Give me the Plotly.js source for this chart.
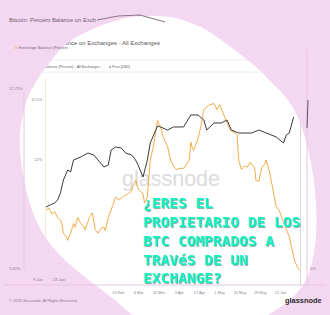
<!DOCTYPE html>
<html><head><meta charset="utf-8">
<script src="https://cdn.plot.ly/plotly-3.0.1.min.js"></script>
<style>html,body{margin:0;padding:0;background:#fff}#c{width:330px;height:315px}</style>
</head><body><div id="c"></div>
<script>
// ---- data ----
const balanceDates = ['2023-01-01','2023-01-03','2023-01-05','2023-01-07','2023-01-09','2023-01-11','2023-01-12','2023-01-13','2023-01-15','2023-01-16','2023-01-18','2023-01-20','2023-01-21','2023-01-23','2023-01-25','2023-01-27','2023-01-28','2023-01-30','2023-01-31','2023-02-02','2023-02-04','2023-02-06','2023-02-08','2023-02-10','2023-02-11','2023-02-13','2023-02-15','2023-02-16','2023-02-18','2023-02-20','2023-02-22','2023-02-24','2023-02-27','2023-03-01','2023-03-02','2023-03-04','2023-03-06','2023-03-08','2023-03-09','2023-03-10','2023-03-12','2023-03-13','2023-03-14','2023-03-16','2023-03-17','2023-03-19','2023-03-20','2023-03-21','2023-03-23','2023-03-24','2023-03-26','2023-03-28','2023-03-30','2023-04-01','2023-04-03','2023-04-06','2023-04-08','2023-04-10','2023-04-11','2023-04-12','2023-04-13','2023-04-15','2023-04-16','2023-04-18','2023-04-19','2023-04-20','2023-04-22','2023-04-24','2023-04-27','2023-04-29','2023-05-01','2023-05-03','2023-05-04','2023-05-07','2023-05-09','2023-05-11','2023-05-13','2023-05-14','2023-05-16','2023-05-18','2023-05-20','2023-05-22','2023-05-24','2023-05-25','2023-05-26','2023-05-28','2023-05-30','2023-06-01','2023-06-02','2023-06-04','2023-06-06','2023-06-07','2023-06-09','2023-06-11','2023-06-13','2023-06-15','2023-06-18','2023-06-20','2023-06-22','2023-06-24','2023-06-25'];
const balancePct = [11.58,11.60,11.55,11.57,11.52,11.50,11.47,11.39,11.36,11.33,11.39,11.47,11.44,11.52,11.47,11.45,11.42,11.48,11.52,11.56,11.42,11.39,11.43,11.44,11.41,11.52,11.58,11.62,11.69,11.67,11.68,11.70,11.72,11.74,11.78,11.83,11.75,11.73,11.72,11.64,11.69,11.85,12.00,12.10,12.17,12.33,12.30,12.28,12.19,12.16,12.11,12.00,11.95,11.92,11.93,11.93,11.96,12.00,12.15,12.10,12.08,12.14,12.18,12.28,12.36,12.42,12.44,12.46,12.47,12.42,12.46,12.40,12.36,12.28,12.24,12.23,12.21,12.00,11.92,11.95,11.94,11.98,11.95,11.94,11.83,11.82,11.94,11.96,12.00,11.92,11.80,11.73,11.61,11.58,11.52,11.46,11.36,11.25,11.15,11.10,11.08];

const priceDates = ['2023-01-01','2023-01-04','2023-01-07','2023-01-09','2023-01-11','2023-01-13','2023-01-16','2023-01-18','2023-01-20','2023-01-25','2023-01-30','2023-02-03','2023-02-08','2023-02-10','2023-02-13','2023-02-15','2023-02-18','2023-02-22','2023-02-25','2023-03-01','2023-03-03','2023-03-05','2023-03-09','2023-03-12','2023-03-14','2023-03-17','2023-03-19','2023-03-21','2023-03-26','2023-03-30','2023-04-06','2023-04-11','2023-04-16','2023-04-20','2023-04-22','2023-04-27','2023-05-02','2023-05-06','2023-05-09','2023-05-14','2023-05-23','2023-05-28','2023-06-02','2023-06-09','2023-06-14','2023-06-16','2023-06-18','2023-06-21'];
const priceUSD = [16500,16720,16950,17290,18110,19750,21120,20840,22570,23030,23650,23340,22120,21540,21830,24130,24610,24450,23650,23340,22870,22120,20150,22570,25280,27200,28310,28130,27570,28130,28130,30470,30470,29470,27570,28890,28890,29470,27570,27020,27020,27570,27020,26310,25280,26670,27020,30060];

const xTickVals = ['2023-02-20','2023-03-06','2023-03-20','2023-04-03','2023-04-17','2023-05-01','2023-05-15','2023-05-29','2023-06-12'];
const xTickText = ['20 Feb','6 Mar','20 Mar','3 Apr','17 Apr','1 May','15 May','29 May','12 Jun'];
const yTickVals = [12, 12.5];
const yTickText = ['12%', '12.5%'];

const headline = '¿ERES EL<br>PROPIETARIO DE LOS<br>BTC COMPRADOS A<br>TRAVéS DE UN<br>EXCHANGE?';

// ---- layout helpers ----
const W = 330, H = 315;
const px = x => x / W, py = y => 1 - y / H;
const SANS = '"Liberation Sans", Arial, sans-serif';
const ORANGE = '#f2ad4a';

const rim = [[150,16],[170,17],[186,21],[208,31],[232,48],[255,66],[273,84],[288,100],[299,120],[307,145],[313,175],[316,205],[316,235],[312,262],[305,282],[292,298],[276,310],[258,320],[230,330],[190,335],[150,325],[130,313],[115,300],[95,285],[75,269],[57,252],[42,232],[32,210],[24,180],[20,150],[21,125],[27,100],[37,80],[47,66],[60,50],[75,38],[95,28],[115,21],[132,17]];
function rimPath(pts){
  const n = pts.length, f = p => px(p[0]).toFixed(4)+','+py(p[1]).toFixed(4);
  let d = 'M' + f(pts[0]);
  for (let i = 0; i < n; i++){
    const p0 = pts[(i-1+n)%n], p1 = pts[i], p2 = pts[(i+1)%n], p3 = pts[(i+2)%n];
    const c1 = [p1[0]+(p2[0]-p0[0])/6, p1[1]+(p2[1]-p0[1])/6];
    const c2 = [p2[0]-(p3[0]-p1[0])/6, p2[1]-(p3[1]-p1[1])/6];
    d += 'C' + f(c1) + ' ' + f(c2) + ' ' + f(p2);
  }
  return d + 'Z';
}

const traces = [
  {x:[171], y:[181], xaxis:'x', yaxis:'y', mode:'text', text:['glassnode'], textposition:'middle center',
   textfont:{family:SANS, size:21.5, color:'#dcdcdc'}, hoverinfo:'skip'},
  {x:[160], y:[43], xaxis:'x', yaxis:'y', mode:'text', text:['Bitcoin: Percent Balance on Exchanges - All Exchanges'], textposition:'middle left',
   textfont:{family:SANS, size:6, color:'#555'}, hoverinfo:'skip'},
  {x:[100], y:[67], xaxis:'x', yaxis:'y', mode:'text', text:['<span style="color:'+ORANGE+'">●</span> Exchange Balance (Percent) - All Exchanges'], textposition:'middle left',
   textfont:{family:SANS, size:3.7, color:'#666'}, hoverinfo:'skip'},
  {x:[109], y:[67], xaxis:'x', yaxis:'y', mode:'text', text:['● Price [USD]'], textposition:'middle right',
   textfont:{family:SANS, size:3.4, color:'#555'}, hoverinfo:'skip'},
  {x:balanceDates, y:balancePct, xaxis:'x2', yaxis:'y2', mode:'lines', line:{color:ORANGE, width:1}, hoverinfo:'skip'},
  {x:priceDates, y:priceUSD, xaxis:'x2', yaxis:'y3', mode:'lines', line:{color:'#3a3a3a', width:1}, hoverinfo:'skip'}
];

const layout = {
  width: W, height: H, margin:{l:0,r:0,t:0,b:0},
  paper_bgcolor:'#ffffff', plot_bgcolor:'rgba(0,0,0,0)',
  showlegend:false, hovermode:false,
  xaxis:{domain:[0,1], range:[0,W], visible:false, fixedrange:true},
  yaxis:{domain:[0,1], range:[H,0], visible:false, fixedrange:true},
  xaxis2:{domain:[px(46), px(300)], anchor:'y2', type:'date', range:['2023-01-01','2023-06-25 10:00'],
    tickvals:xTickVals, ticktext:xTickText, tickfont:{family:SANS, size:3.9, color:'#888'},
    showgrid:false, zeroline:false, showline:false, ticks:'', ticklabelstandoff:4},
  yaxis2:{domain:[py(285), py(78)], anchor:'x2', range:[10.958, 12.683],
    tickvals:yTickVals, ticktext:yTickText, tickfont:{family:SANS, size:3.9, color:'#888'},
    showgrid:false, zeroline:false, showline:true, linecolor:'#f1ead6', linewidth:1, ticks:'', ticklabelstandoff:2},
  yaxis3:{overlaying:'y2', anchor:'x2', side:'right', type:'log', range:[3.9916, 4.591],
    showticklabels:false, showgrid:false, zeroline:false, showline:true, linecolor:'#d6d6d6', ticks:''},
  shapes:[
    {type:'line', xref:'paper', yref:'paper', x0:0, x1:1, y0:py(60), y1:py(60), line:{color:'#ececec', width:1}, layer:'below'},
    {type:'line', xref:'paper', yref:'paper', x0:0, x1:1, y0:py(72), y1:py(72), line:{color:'#ececec', width:1}, layer:'below'},
    {type:'path', xref:'paper', yref:'paper', path:'M0,0L1,0L1,1L0,1Z' + rimPath(rim), fillrule:'evenodd',
     fillcolor:'#f4d8f1', line:{width:0}, layer:'above'},
    {type:'path', xref:'paper', yref:'paper', path:'M'+px(97)+','+py(20)+'L'+px(118)+','+py(16)+'L'+px(140)+','+py(15)+'L'+px(165)+','+py(22),
     line:{color:'#8a7a89', width:1.2}, layer:'above'},
    {type:'line', xref:'paper', yref:'paper', x0:px(24), x1:px(24), y0:py(92), y1:py(268), line:{color:'#e6c6e3', width:1}, layer:'above'},
    {type:'line', xref:'paper', yref:'paper', x0:px(307), x1:px(307), y0:py(50), y1:py(285), line:{color:'#e6c6e3', width:1}, layer:'above'},
    {type:'line', xref:'paper', yref:'paper', x0:px(307), x1:px(308), y0:py(128), y1:py(100), line:{color:'#5a5a5a', width:1}, layer:'above'},
    {type:'line', xref:'paper', yref:'paper', x0:px(4), x1:px(326), y0:py(285), y1:py(285), line:{color:'#e6c6e3', width:1}, layer:'above'}
  ],
  annotations:[
    {xref:'paper', yref:'paper', x:px(7), y:py(20), xanchor:'left', yanchor:'middle', showarrow:false,
     text:'Bitcoin: Percent Balance on Exch', font:{family:SANS, size:5.9, color:'#6e5f6d'}},
    {xref:'paper', yref:'paper', x:px(13), y:py(47), xanchor:'left', yanchor:'middle', showarrow:false,
     text:'<span style="color:#f0a03c">●</span> Exchange Balance (Percent', font:{family:SANS, size:4.0, color:'#7a6a79'}},
    {xref:'paper', yref:'paper', x:px(16), y:py(88), xanchor:'center', yanchor:'middle', showarrow:false,
     text:'12.75%', font:{family:SANS, size:4.0, color:'#8a7a89'}},
    {xref:'paper', yref:'paper', x:px(15), y:py(268), xanchor:'center', yanchor:'middle', showarrow:false,
     text:'1.65%', font:{family:SANS, size:4.0, color:'#8a7a89'}},
    {xref:'paper', yref:'paper', x:px(38), y:py(279), xanchor:'center', yanchor:'middle', showarrow:false,
     text:'9 Jan', font:{family:SANS, size:4.0, color:'#8a7a89'}},
    {xref:'paper', yref:'paper', x:px(59), y:py(279), xanchor:'center', yanchor:'middle', showarrow:false,
     text:'23 Jan', font:{family:SANS, size:4.0, color:'#8a7a89'}},
    {xref:'paper', yref:'paper', x:px(313), y:py(268), xanchor:'center', yanchor:'middle', showarrow:false,
     text:'5%', font:{family:SANS, size:4.0, color:'#8a7a89'}},
    {xref:'paper', yref:'paper', x:px(7), y:py(301), xanchor:'left', yanchor:'middle', showarrow:false,
     text:'© 2023 Glassnode. All Rights Reserved.', font:{family:SANS, size:3.85, color:'#8a7a89'}},
    {xref:'paper', yref:'paper', x:px(324), y:py(300), xanchor:'right', yanchor:'middle', showarrow:false,
     text:'glassnode', font:{family:SANS, size:7.4, color:'#2e2a2e', weight:'bold'}},
    {xref:'paper', yref:'paper', x:px(141), y:py(240), xanchor:'left', yanchor:'middle', align:'left', showarrow:false,
     text:headline, font:{family:'"DejaVu Sans Mono", monospace', size:14.5, color:'#0ff4c2', weight:'bold',
     shadow:'1px 1px 0px rgba(10,70,60,0.45)'}}
  ]
};

Plotly.newPlot('c', traces, layout, {staticPlot:true, displayModeBar:false});
</script></body></html>
